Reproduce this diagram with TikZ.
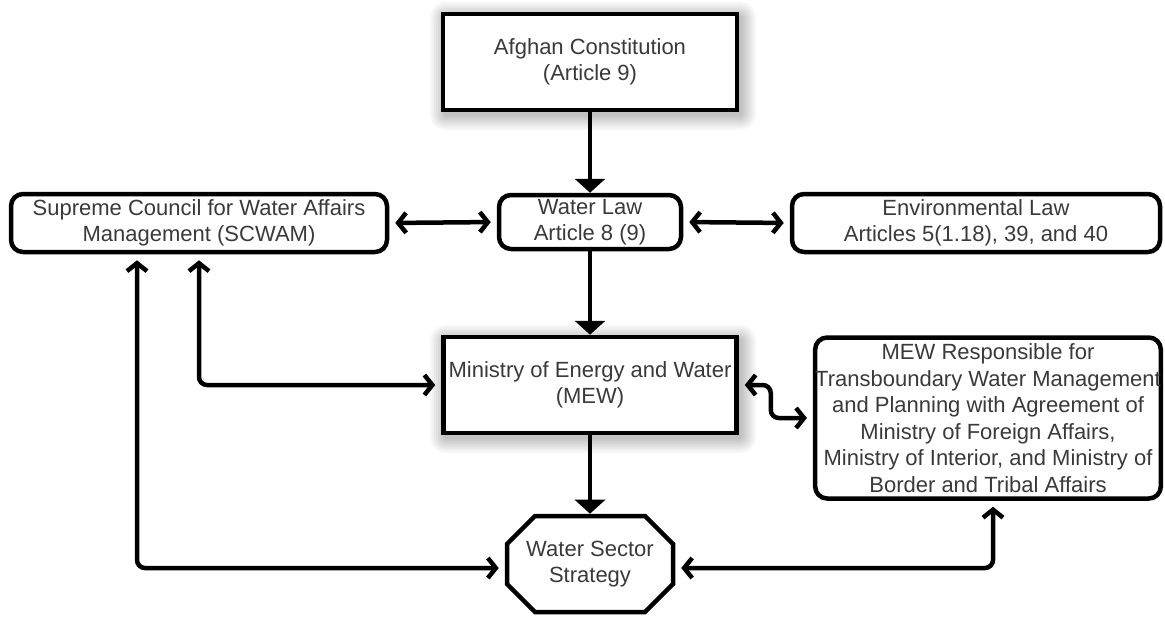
\documentclass[tikz,border=0pt]{standalone}
\usepackage{fontspec}
\setmainfont{Liberation Sans}
\usepackage{xcolor}
\usetikzlibrary{arrows.meta,shapes.misc}
\definecolor{textgray}{HTML}{3A3A3A}

\begin{document}
\begin{tikzpicture}[x=1pt,y=-1pt,
    >={Straight Barb[length=8pt,width=20pt]},
    box/.style={draw, line width=4.5pt, align=center, text=textgray,
        fill=white, inner sep=0pt, font=\fontsize{22}{26.5}\selectfont},
    sharpbox/.style={box, rectangle},
    roundbox/.style={box, rounded corners=12pt},
    link/.style={line width=4.5pt, rounded corners=8pt},
    dbl/.style={link, <->, shorten <=6pt, shorten >=6pt},
    down/.style={link, -{Triangle[width=30pt,length=14pt]}}
]
    \useasboundingbox (0,0) rectangle (1165,616);

    % Soft shadow behind the two square boxes
    \foreach \cy in {62,385}
        \foreach \r/\g in {16/3,14/6,12/9,10/12,8/15,6/18,4/21,2/24}
            \fill[black!\g, rounded corners=\r pt]
                (590-147-\r+3, \cy-48-\r+4) rectangle (590+147+\r+3, \cy+48+\r+4);

    % Constitution and laws
    \node[sharpbox, minimum width=294pt, minimum height=96pt] (const) at (590,62)
        {Afghan Constitution\\(Article 9)};
    \node[roundbox, minimum width=182pt, minimum height=54pt] (water) at (590,222)
        {Water Law\\Article 8 (9)};
    \node[roundbox, minimum width=376pt, minimum height=58pt] (scwam) at (199,223)
        {Supreme Council for Water Affairs\\Management (SCWAM)};
    \node[roundbox, minimum width=368pt, minimum height=58pt] (env) at (976,223)
        {Environmental Law\\Articles 5(1.18), 39, and 40};

    % Ministry and strategy
    \node[sharpbox, minimum width=293pt, minimum height=96pt] (mew) at (590,385)
        {Ministry of Energy and Water\\(MEW)};
    \node[roundbox, minimum width=345pt, minimum height=161pt] (trans) at (988,418)
        {MEW Responsible for\\Transboundary Water Management\\and Planning with Agreement of\\
         Ministry of Foreign Affairs,\\Ministry of Interior, and Ministry of\\Border and Tribal Affairs};
    \node[box, chamfered rectangle, chamfered rectangle xsep=14pt, chamfered rectangle ysep=14pt,
        minimum width=166pt, minimum height=96pt] (strat) at (590,564)
        {\rule{0pt}{10pt}Water Sector\\Strategy};

    % Top-down arrows
    \draw[down] (const) -- (water);
    \draw[down] (water) -- (mew);
    \draw[down] (mew) -- (strat);

    % Two-way links
    \draw[dbl] (scwam.east) -- (water.west);
    \draw[dbl] (water.east) -- (env.west);
    \draw[dbl] (scwam.south) |- (mew.west);
    \draw[dbl] ([xshift=-62pt]scwam.south) |- ([yshift=-4pt]strat.west);
    \draw[dbl] ([yshift=-4pt]strat.east) -| ([xshift=5pt]trans.south);
    \draw[dbl] (mew.east) -- ++(32,0) |- (trans.west);
\end{tikzpicture}
\end{document}
